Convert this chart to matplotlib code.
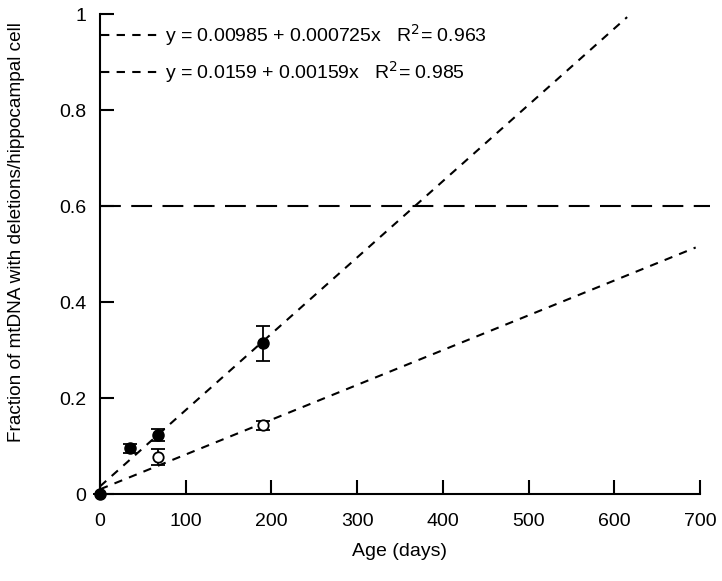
import matplotlib

matplotlib.use("Agg")
import matplotlib.pyplot as plt
import numpy as np

plt.rcParams["font.family"] = ["Liberation Sans", "DejaVu Sans"]

# measured points (filled = one group, open = other group)
filled_age = [0, 35, 68, 190]
filled_frac = [0.0, 0.095, 0.123, 0.314]
filled_err = [0.0, 0.010, 0.012, 0.037]

open_age = [68, 190]
open_frac = [0.077, 0.143]
open_err = [0.017, 0.010]

# linear fits (intercept, slope, x end)
fit_open = (0.00985, 0.000725, 695)
fit_filled = (0.0159, 0.00159, 615)
labels = [r"y = 0.00985 + 0.000725x   R$^2$= 0.963",
          r"y = 0.0159 + 0.00159x   R$^2$= 0.985"]
threshold = 0.6

fig = plt.figure(figsize=(7.22, 5.81), dpi=100)
ax = fig.add_axes([0.1385, 0.1497, 0.831, 0.826])

fit_style = dict(color="black", lw=1.5, dashes=(4, 3.5))
for b0, b1, xend in (fit_open, fit_filled):
    xs = np.array([0, xend])
    ax.plot(xs, b0 + b1 * xs, **fit_style)

ax.plot([0, 712], [threshold, threshold], color="black", lw=1.5,
        dashes=(10, 5), clip_on=False)

ax.errorbar(filled_age, filled_frac, yerr=filled_err, fmt="o", color="black",
            ms=8, capsize=5, elinewidth=1.3, capthick=1.3, clip_on=False, zorder=5)
ax.errorbar(open_age, open_frac, yerr=open_err, fmt="o", color="black",
            mfc="white", mec="black", mew=1.3, ms=7.5, capsize=5,
            elinewidth=1.3, capthick=1.3, zorder=5)

ax.set_xlim(0, 700)
ax.set_ylim(0, 1)
ax.set_xticks(np.arange(0, 701, 100))
ax.set_yticks([0, 0.2, 0.4, 0.6, 0.8, 1.0])
ax.set_yticklabels(["0", "0.2", "0.4", "0.6", "0.8", "1"])
ax.tick_params(direction="in", length=10, width=1.5, labelsize=14, pad=10)
ax.tick_params(axis="x", pad=14)
for s in ("top", "right"):
    ax.spines[s].set_visible(False)
for s in ("left", "bottom"):
    ax.spines[s].set_linewidth(1.5)

ax.set_xlabel("Age (days)", fontsize=14, labelpad=9)
ax.set_ylabel("Fraction of mtDNA with deletions/hippocampal cell", fontsize=13.7)
ax.yaxis.set_label_coords(-0.125, 0.546)

h1, = ax.plot([], [], **fit_style)
h2, = ax.plot([], [], **fit_style)
ax.legend([h1, h2], labels, loc="upper left", bbox_to_anchor=(-0.027, 1.02),
          frameon=False, fontsize=14, handlelength=3.0, handletextpad=0.3,
          labelspacing=0.55, borderaxespad=0.5)

fig.savefig("out.png", dpi=100)
